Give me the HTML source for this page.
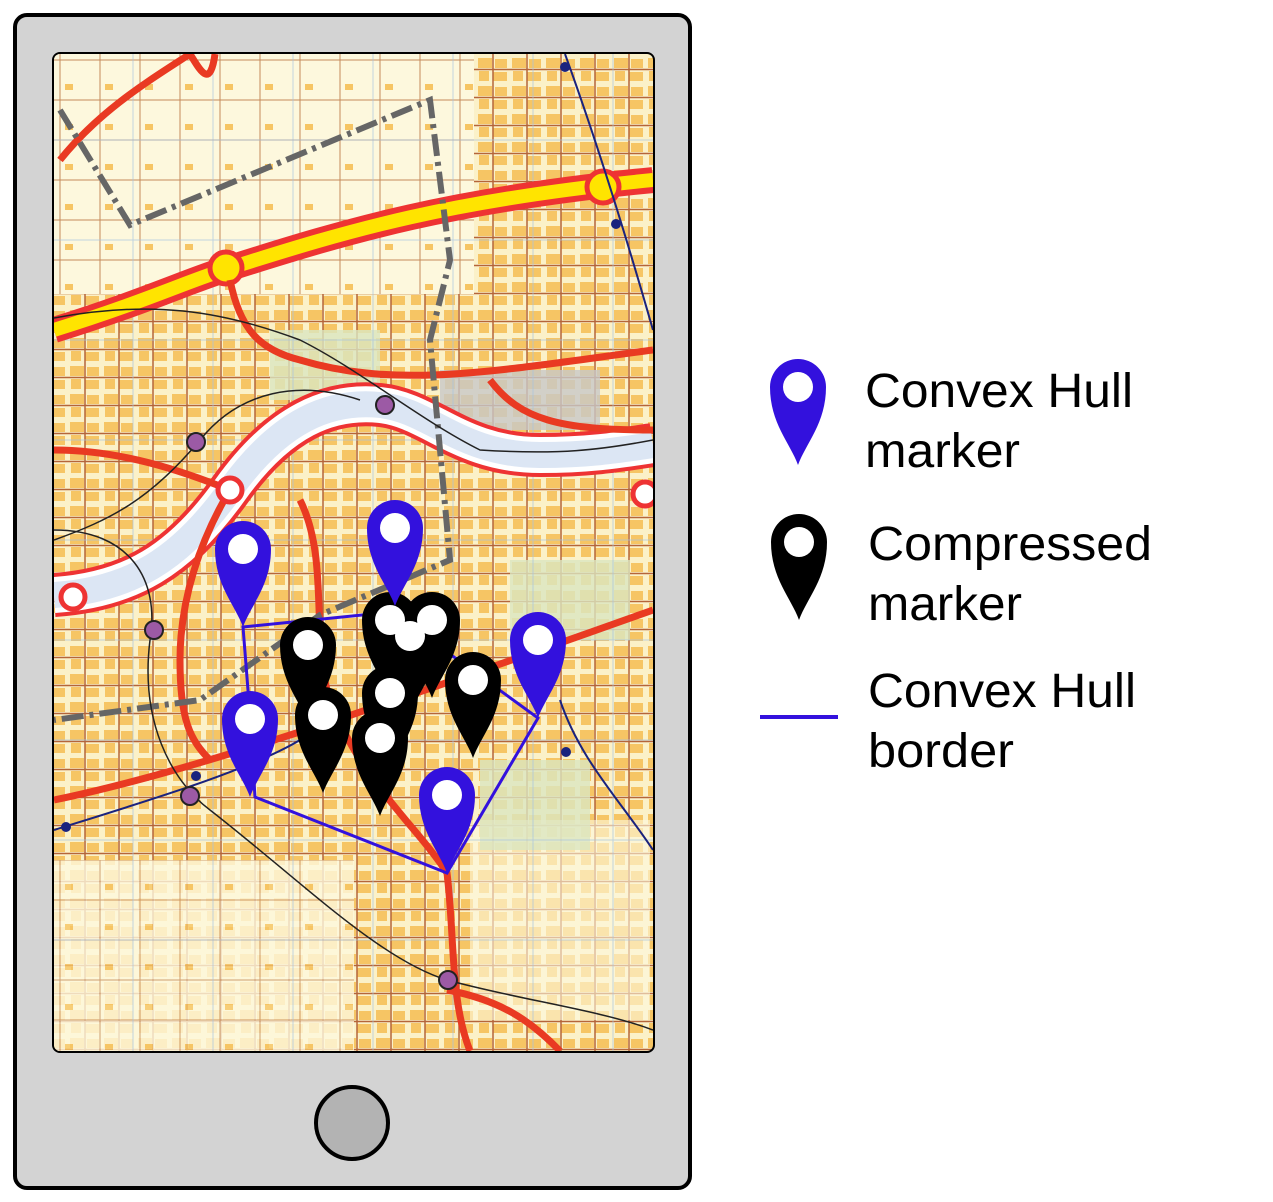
<!DOCTYPE html>
<html><head><meta charset="utf-8"><style>
html,body{margin:0;padding:0;background:#fff;}
svg{display:block;}
text{font-family:"Liberation Sans",sans-serif;font-size:48px;fill:#000;}
</style></head><body>
<svg width="1273" height="1202" viewBox="0 0 1273 1202" xmlns="http://www.w3.org/2000/svg">
<defs>
<pattern id="blk" width="34" height="28" patternUnits="userSpaceOnUse">
<rect width="34" height="28" fill="#fbf1c8"/>
<rect x="2" y="2" width="14" height="10" fill="#f6c564"/>
<rect x="19" y="3" width="12" height="9" fill="#f6c564"/>
<rect x="3" y="15" width="10" height="10" fill="#f6c564"/>
<rect x="17" y="16" width="14" height="9" fill="#f6c564"/>
<path d="M0 13.5H34M17 0V28" stroke="#b5653a" stroke-width="1.5"/>
</pattern>
<pattern id="lt" width="40" height="40" patternUnits="userSpaceOnUse">
<rect width="40" height="40" fill="#fdf8dd"/>
<path d="M0 20H40M20 0V40" stroke="#c58a5a" stroke-width="1"/>
<rect x="25" y="4" width="8" height="6" fill="#f6c564"/>
</pattern>
<clipPath id="scr"><rect x="54" y="54" width="599" height="997" rx="6"/></clipPath>
<path id="pin" d="M0 0 C-8 -22 -28 -42 -28 -78 A28 28 0 1 1 28 -78 C28 -42 8 -22 0 0Z"/>
</defs>
<rect x="15" y="15" width="675" height="1173" rx="12" fill="#d3d3d3" stroke="#000" stroke-width="4"/>
<rect x="52" y="52" width="603" height="1001" rx="8" fill="#000"/>
<g clip-path="url(#scr)">
<rect x="54" y="54" width="599" height="997" fill="url(#blk)"/>
<rect x="54" y="54" width="420" height="240" fill="url(#lt)"/>
<rect x="54" y="860" width="300" height="200" fill="url(#lt)" opacity="0.8"/>
<rect x="470" y="820" width="180" height="200" fill="#fdf8dd" opacity="0.6"/>
<rect x="270" y="330" width="110" height="70" fill="#dbe6c0" opacity="0.8"/>
<rect x="510" y="560" width="120" height="80" fill="#dbe6c0" opacity="0.8"/>
<rect x="480" y="760" width="110" height="90" fill="#dbe6c0" opacity="0.8"/>
<rect x="440" y="370" width="160" height="60" fill="#c8c8c8" opacity="0.8"/>
<g stroke="#a8c4e0" stroke-width="1" opacity="0.7">
<path d="M133 54V1051M213 54V1051M293 54V1051M373 54V1051M453 54V1051M533 54V1051M613 54V1051"/>
<path d="M54 140H653M54 240H653M54 340H653M54 440H653M54 540H653M54 640H653M54 740H653M54 840H653M54 940H653"/>
</g>
<path d="M54 595 C130 590 180 560 230 490 C280 420 330 400 380 405 C430 410 460 455 540 455 C590 455 620 450 653 445" fill="none" stroke="#e33" stroke-width="44"/>
<path d="M54 595 C130 590 180 560 230 490 C280 420 330 400 380 405 C430 410 460 455 540 455 C590 455 620 450 653 445" fill="none" stroke="#fff" stroke-width="36"/>
<path d="M54 595 C130 590 180 560 230 490 C280 420 330 400 380 405 C430 410 460 455 540 455 C590 455 620 450 653 445" fill="none" stroke="#dce6f4" stroke-width="26"/>
<path d="M54 330 C150 300 190 280 230 268 C350 230 450 200 653 180" fill="none" stroke="#e33" stroke-width="26"/>
<path d="M54 330 C150 300 190 280 230 268 C350 230 450 200 653 180" fill="none" stroke="#ffe400" stroke-width="14"/>
<circle cx="226" cy="268" r="16" fill="#ffe400" stroke="#e33" stroke-width="5"/>
<circle cx="603" cy="187" r="16" fill="#ffe400" stroke="#e33" stroke-width="5"/>
<g fill="none" stroke="#e93a22" stroke-width="7">
<path d="M60 160 C100 110 150 80 190 54"/>
<path d="M230 280 C240 330 260 350 300 360 C400 390 500 370 653 350"/>
<path d="M230 490 C200 540 180 600 180 660 C180 720 190 740 210 760"/>
<path d="M54 450 C120 450 180 470 230 490"/>
<path d="M54 800 C200 770 400 700 653 610"/>
<path d="M300 500 C330 560 310 640 330 700 C360 780 420 830 447 873 C455 940 450 1000 470 1051"/>
<path d="M447 990 C500 1000 530 1020 560 1051"/>
<path d="M490 380 C520 420 560 430 653 430"/>
<path d="M190 54 C200 70 210 90 215 54"/>
</g>
<circle cx="230" cy="490" r="12" fill="#fff" stroke="#e33" stroke-width="5"/>
<circle cx="73" cy="597" r="12" fill="#fff" stroke="#e33" stroke-width="5"/>
<circle cx="645" cy="494" r="12" fill="#fff" stroke="#e33" stroke-width="5"/>
<path d="M60 110 L130 225 L430 100 L450 260 L430 340 L450 560 L320 615 L200 700 L54 720" fill="none" stroke="#666" stroke-width="6" stroke-dasharray="22 6 4 6"/>
<g fill="none" stroke="#222" stroke-width="1.5">
<path d="M54 318 C150 300 220 310 300 340 C360 370 420 420 480 450 C560 455 600 450 653 440"/>
<path d="M54 540 C110 520 150 500 200 440 C240 390 300 380 360 400"/>
<path d="M54 530 C130 530 160 580 150 640 C140 720 170 780 210 810 C300 880 380 960 447 980 C520 1000 600 1010 653 1030"/>
</g>
<g fill="none" stroke="#1a237e" stroke-width="2">
<path d="M565 54 C600 150 630 250 653 330"/>
<path d="M54 830 C150 800 250 770 300 740"/>
<path d="M560 700 C580 760 620 800 653 850"/>
</g>
<g fill="#9c5aa5" stroke="#222" stroke-width="2">
<circle cx="385" cy="405" r="9"/><circle cx="196" cy="442" r="9"/><circle cx="154" cy="630" r="9"/><circle cx="190" cy="796" r="9"/><circle cx="448" cy="980" r="9"/>
</g>
<g fill="#1a237e"><circle cx="565" cy="67" r="5"/><circle cx="616" cy="224" r="5"/><circle cx="566" cy="752" r="5"/><circle cx="66" cy="827" r="5"/><circle cx="196" cy="776" r="5"/></g>
<path d="M243 627 L392 612 L538 718 L447 873 L255 797 L248 690 Z" fill="none" stroke="#3311dd" stroke-width="3"/>
<g fill="#000">
<use href="#pin" x="308" y="723"/>
<use href="#pin" x="390" y="698"/>
<use href="#pin" x="432" y="698"/>
<use href="#pin" x="410" y="714"/>
<use href="#pin" x="390" y="771"/>
<use href="#pin" x="473" y="758"/>
<use href="#pin" x="323" y="793"/>
<use href="#pin" x="380" y="816"/>
</g>
<g fill="#fff">
<circle cx="308" cy="645" r="15"/><circle cx="390" cy="620" r="15"/><circle cx="432" cy="620" r="15"/><circle cx="410" cy="636" r="15"/><circle cx="390" cy="693" r="15"/><circle cx="473" cy="680" r="15"/><circle cx="323" cy="715" r="15"/><circle cx="380" cy="738" r="15"/>
</g>
<g fill="#3311dd">
<use href="#pin" x="243" y="627"/>
<use href="#pin" x="395" y="606"/>
<use href="#pin" x="538" y="718"/>
<use href="#pin" x="250" y="797"/>
<use href="#pin" x="447" y="873"/>
</g>
<g fill="#fff">
<circle cx="243" cy="549" r="15"/><circle cx="395" cy="528" r="15"/><circle cx="538" cy="640" r="15"/><circle cx="250" cy="719" r="15"/><circle cx="447" cy="795" r="15"/>
</g>
</g>
<circle cx="352" cy="1123" r="36" fill="#b3b3b3" stroke="#000" stroke-width="4"/>
<use href="#pin" x="798" y="465" fill="#3311dd"/>
<circle cx="798" cy="387" r="15" fill="#fff"/>
<use href="#pin" x="799" y="620" fill="#000"/>
<circle cx="799" cy="542" r="15" fill="#fff"/>
<line x1="760" y1="717" x2="838" y2="717" stroke="#3311dd" stroke-width="4"/>
<text x="865" y="407" textLength="268" lengthAdjust="spacingAndGlyphs">Convex Hull</text>
<text x="865" y="467" textLength="155" lengthAdjust="spacingAndGlyphs">marker</text>
<text x="868" y="560" textLength="284" lengthAdjust="spacingAndGlyphs">Compressed</text>
<text x="868" y="620" textLength="154" lengthAdjust="spacingAndGlyphs">marker</text>
<text x="868" y="707" textLength="268" lengthAdjust="spacingAndGlyphs">Convex Hull</text>
<text x="868" y="767" textLength="146" lengthAdjust="spacingAndGlyphs">border</text>
</svg>
</body></html>
